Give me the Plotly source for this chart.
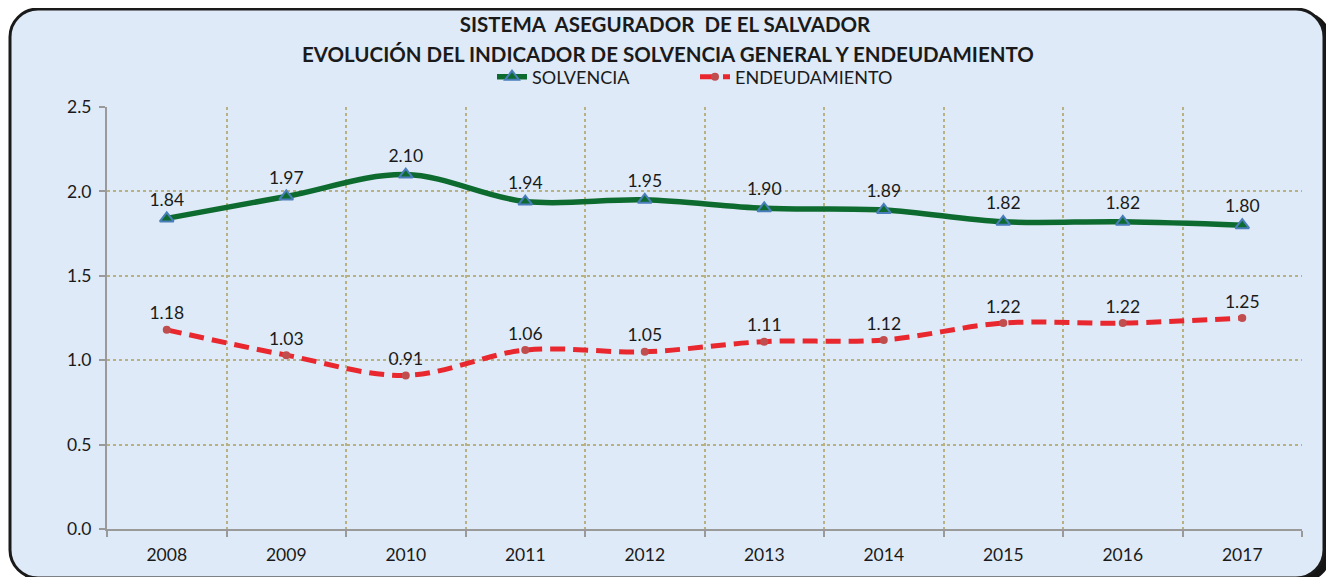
import plotly.graph_objects as go

years = ["2008", "2009", "2010", "2011", "2012", "2013", "2014", "2015", "2016", "2017"]
solvencia = [1.84, 1.97, 2.10, 1.94, 1.95, 1.90, 1.89, 1.82, 1.82, 1.80]
endeudamiento = [1.18, 1.03, 0.91, 1.06, 1.05, 1.11, 1.12, 1.22, 1.22, 1.25]

OFF = 8  # page body margin
W, H = 1334 - OFF, 577 - OFF
ML, MT = 107 - OFF, 107 - OFF
MR = W - (1302 - OFF)
MB = H - (529 - OFF)
PW, PH = W - ML - MR, H - MT - MB
FONT = "Lato"
TXT = "#1a1a1a"


def px(x):
    return (x - OFF - ML) / PW


def py(y):
    return (H - MB - (y - OFF)) / PH


def rounded_path(x0, y0, x1, y1, r):
    k = 0.55 * r
    pts = [
        ("M", x0 + r, y0), ("L", x1 - r, y0),
        ("C", x1 - r + k, y0, x1, y0 + r - k, x1, y0 + r),
        ("L", x1, y1 - r),
        ("C", x1, y1 - r + k, x1 - r + k, y1, x1 - r, y1),
        ("L", x0 + r, y1),
        ("C", x0 + r - k, y1, x0, y1 - r + k, x0, y1 - r),
        ("L", x0, y0 + r),
        ("C", x0, y0 + r - k, x0 + r - k, y0, x0 + r, y0),
    ]
    s = ""
    for p in pts:
        cmd, vals = p[0], p[1:]
        coords = []
        for i in range(0, len(vals), 2):
            coords.append(f"{px(vals[i]):.5f},{py(vals[i+1]):.5f}")
        s += cmd + " " + " ".join(coords) + " "
    return s + "Z"


fig = go.Figure()
fig.add_trace(go.Scatter(
    x=years, y=solvencia, name="SOLVENCIA", mode="lines+markers+text",
    line=dict(color="#0E6B30", width=5.5, shape="spline", smoothing=1.0),
    marker=dict(symbol="triangle-up", size=12, color="#0E6B30",
                line=dict(color="#4A7EBB", width=2)),
    text=[f"{v:.2f}" for v in solvencia], textposition="top center",
    textfont=dict(family=FONT, size=17.5, color=TXT),
))
fig.add_trace(go.Scatter(
    x=years, y=endeudamiento, name="ENDEUDAMIENTO", mode="lines+markers+text",
    line=dict(color="#E8282E", width=5, dash="15px,8px", shape="spline", smoothing=1.0),
    marker=dict(symbol="circle", size=8, color="#C04E4E"),
    text=[f"{v:.2f}" for v in endeudamiento], textposition="top center",
    textfont=dict(family=FONT, size=17.5, color=TXT),
))

fig.add_shape(type="path", xref="paper", yref="paper", layer="below",
              path=rounded_path(14, 12, 1331, 582, 28),
              fillcolor="#151515", line=dict(width=0))
fig.add_shape(type="path", xref="paper", yref="paper", layer="below",
              path=rounded_path(10, 9, 1324, 578, 28),
              fillcolor="#DEEAF7", line=dict(color="#1a1a1a", width=3))

fig.add_annotation(
    text="<b>EVOLUCIÓN DEL INDICADOR DE SOLVENCIA GENERAL Y ENDEUDAMIENTO</b>",
    xref="paper", yref="paper", x=px(668), y=py(54), xanchor="center", yanchor="middle",
    showarrow=False, font=dict(family=FONT, size=20.5, color=TXT),
)

grid = "#B8B182"
fig.update_layout(
    width=W, height=H,
    margin=dict(l=ML, r=MR, t=MT, b=MB, autoexpand=False),
    paper_bgcolor="white", plot_bgcolor="white",
    font=dict(family=FONT, color=TXT),
    title=dict(
        text="<b>SISTEMA  ASEGURADOR  DE EL SALVADOR</b>",
        x=(665 - OFF) / W, xref="container", xanchor="center",
        y=1 - (25 - OFF) / H, yref="container", yanchor="middle",
        font=dict(family=FONT, size=20.5, color=TXT),
    ),
    legend=dict(orientation="h", x=px(695), xref="paper", xanchor="center",
                y=py(77), yref="paper", yanchor="middle", bgcolor="rgba(0,0,0,0)",
                font=dict(family=FONT, size=18, color=TXT),
                entrywidth=158, entrywidthmode="pixels"),
    showlegend=True,
    xaxis=dict(type="category", tickson="boundaries", showgrid=True,
               gridcolor=grid, griddash="dot", gridwidth=1.5,
               showline=True, linecolor="#9A9A9A", linewidth=2,
               ticks="outside", ticklen=6, tickcolor="#9A9A9A", tickwidth=2,
               tickangle=0, ticklabelstandoff=9,
               tickfont=dict(family=FONT, size=17.5, color=TXT),
               range=[-0.5, 9.5]),
    yaxis=dict(range=[0, 2.5], dtick=0.5, tickformat=".1f", showgrid=True,
               gridcolor=grid, griddash="dot", gridwidth=1.5,
               showline=True, linecolor="#9A9A9A", linewidth=2,
               ticks="outside", ticklen=6, tickcolor="#9A9A9A", tickwidth=2,
               ticklabelstandoff=4,
               tickfont=dict(family=FONT, size=17.5, color=TXT),
               zeroline=False),
)
fig.write_html("out.html")
